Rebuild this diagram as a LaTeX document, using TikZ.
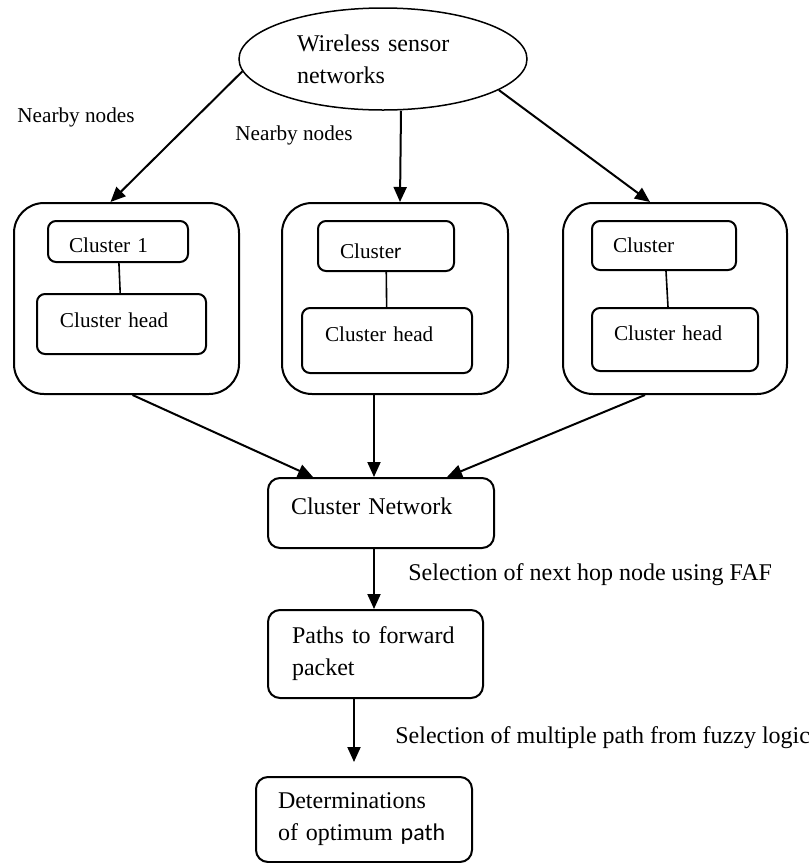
\documentclass[tikz,border=0pt]{standalone}
\usepackage{fontspec}
\setmainfont{Liberation Serif}
\newfontfamily\calibri{Carlito}
\usepackage{tikz}
\usetikzlibrary{shapes.geometric, arrows.meta, calc, positioning}

\begin{document}
\begin{tikzpicture}[x=0.5pt, y=-0.5pt,
  every node/.style={font=\fontsize{12}{16}\selectfont},
  small/.style={font=\fontsize{10.6}{13}\selectfont},
  outerbox/.style={draw, line width=1pt, rounded corners=15pt, minimum height=95.5pt},
  clbox/.style={draw, line width=1pt, rounded corners=4pt, align=left, small},
  flowbox/.style={draw, line width=1pt, rounded corners=6pt, align=left},
  arr/.style={-{Triangle[length=7.5pt,width=6.5pt]}, line width=1pt}]
  \useasboundingbox (0,0) rectangle (809,863);
  \node[ellipse, draw, line width=0.75pt, minimum width=144pt, minimum height=51pt,
        inner sep=0pt, text width=86pt, align=left] (wsn) at (383,59) {Wireless sensor\\networks};
  \node[small, anchor=west, inner sep=0pt] (nb1) at (17,117) {Nearby nodes};
  \node[small, anchor=west, inner sep=0pt] (nb2) at (235,135) {Nearby nodes};
  \node[outerbox, minimum width=112.5pt] (c1) at (126.5,298.5) {};
  \node[outerbox, minimum width=113pt] (c2) at (395,298.5) {};
  \node[outerbox, minimum width=112pt] (c3) at (675,298.5) {};
  \node[clbox, minimum height=20.5pt, text width=49pt, inner xsep=10.5pt, text height=10.7pt] (cl1) at (118,241.5) {Cluster 1};
  \node[clbox, minimum height=30pt, text width=61.5pt, inner xsep=11.5pt, text depth=4pt] (hd1) at (121.5,324) {Cluster head};
  \node[clbox, minimum height=25pt, text width=46pt, inner xsep=11pt, text height=13pt] (cl2) at (386,246) {Cluste{\calibri r}};
  \node[clbox, minimum height=32.5pt, text width=62pt, inner xsep=11.5pt, text depth=6pt] (hd2) at (387,340.5) {Cluster head};
  \node[clbox, minimum height=24.5pt, text width=51pt, inner xsep=10.5pt] (cl3) at (664,245.5) {Cluster};
  \node[clbox, minimum height=31.5pt, text width=61pt, inner xsep=11pt, text depth=6pt] (hd3) at (675,339.5) {Cluster head};
  \draw[line width=0.8pt] (cl1) -- (hd1);
  \draw[line width=0.8pt] (cl2) -- (hd2);
  \draw[line width=0.8pt] ([xshift=1pt]cl3.south) -- ([xshift=-3.5pt]hd3.north);
  \draw[arr] (wsn.185) -- ([xshift=-8pt]c1.north);
  \draw[arr] ([xshift=9pt]wsn.south) -- ([xshift=2.5pt]c2.north);
  \draw[arr] (wsn.345) -- ([xshift=-12.5pt]c3.north);
  \node[flowbox, minimum height=35pt, text width=90pt, inner xsep=11.5pt, text depth=7pt] (cn) at (381,513) {Cluster Network};
  \node[flowbox, minimum height=44pt, text width=83.5pt, inner xsep=12pt] (pa) at (375.5,654) {Paths to forward\\packet};
  \node[flowbox, minimum height=42.5pt, text width=86pt, inner xsep=11pt] (det) at (364,819.5) {Determinations\\of optimum {\calibri path}};
  \draw[arr] ([xshift=3pt]c1.south) -- ([xshift=-34pt]cn.north);
  \draw[arr] ([xshift=-10.5pt]c2.south) -- ([xshift=-3.5pt]cn.north);
  \draw[arr] ([xshift=-15pt]c3.south) -- ([xshift=33pt]cn.north);
  \draw[arr] ([xshift=-3.5pt]cn.south) -- ([xshift=-0.75pt]pa.north);
  \draw[arr] ([xshift=-10.75pt]pa.south) -- ([xshift=-5pt,yshift=7pt]det.north);
  \node[anchor=west, inner sep=0pt] (faf) at (408,575) {Selection of next hop node using FAF};
  \node[anchor=west, inner sep=0pt] (fz) at (395,738) {Selection of multiple path from fuzzy logic};
\end{tikzpicture}
\end{document}
